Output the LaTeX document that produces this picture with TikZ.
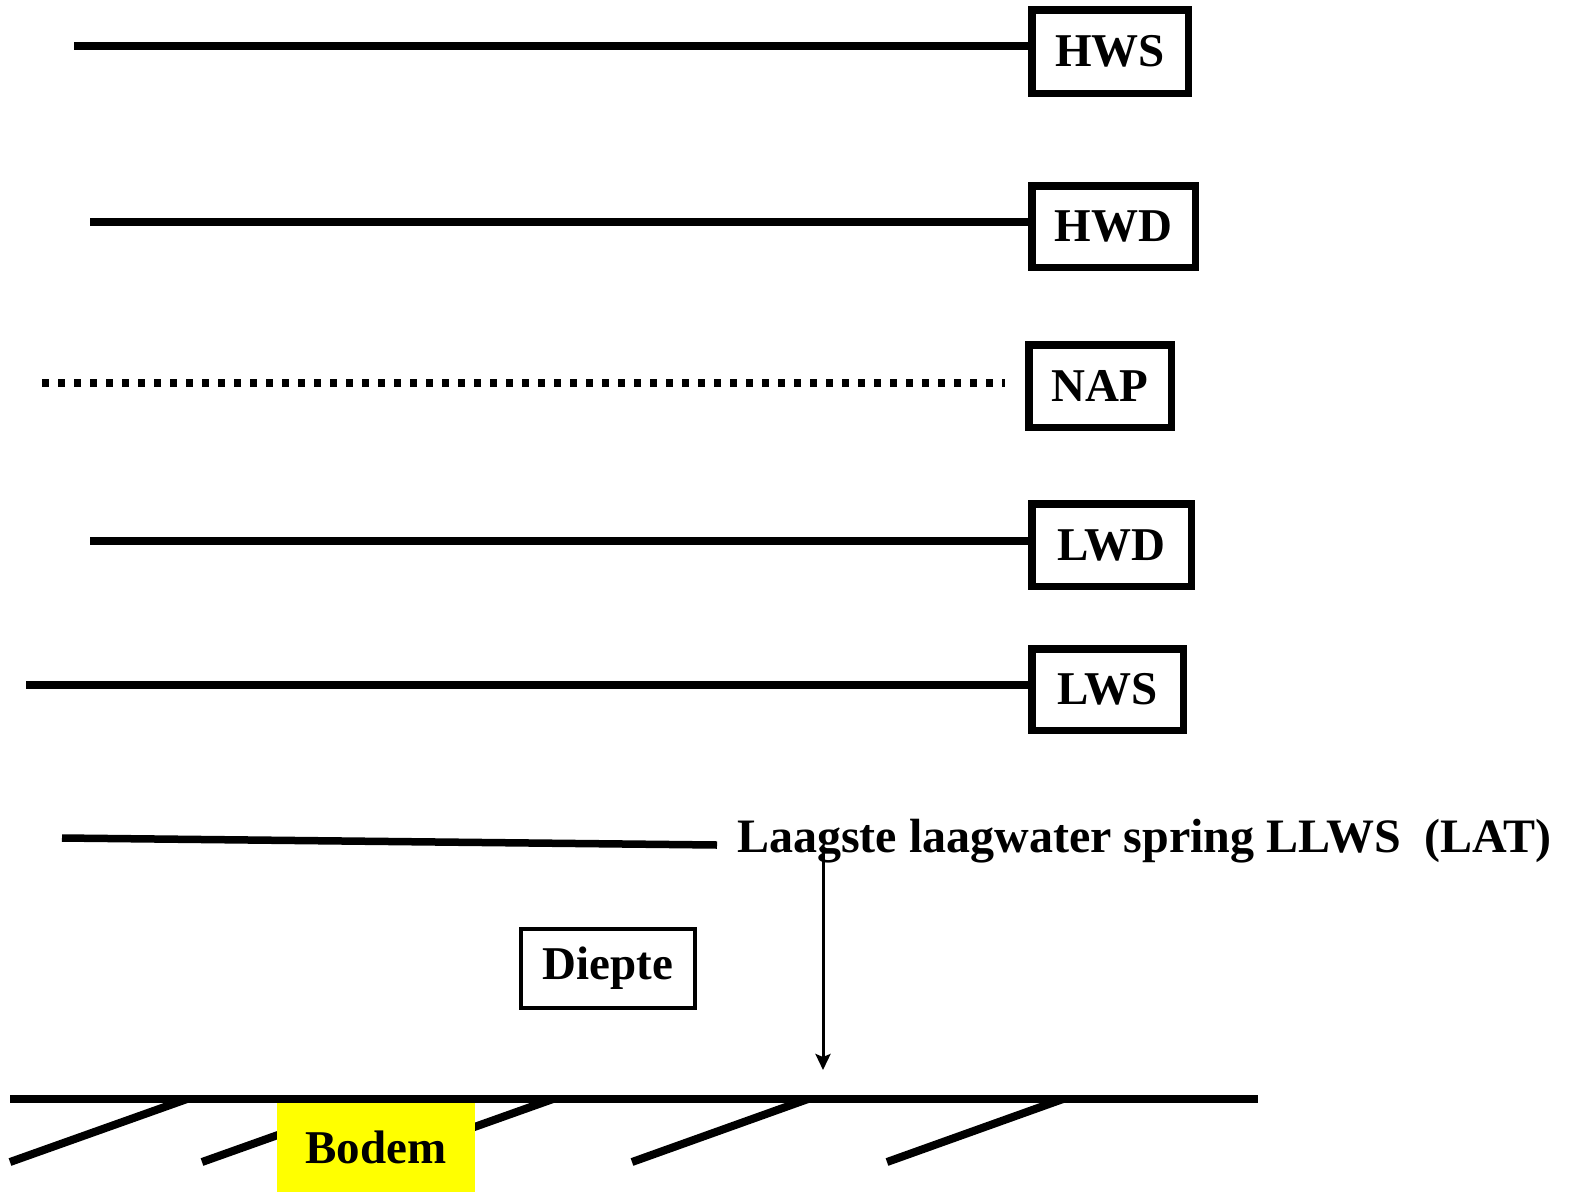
\documentclass[tikz,border=0pt]{standalone}
\usepackage{fontspec}
\setmainfont{Liberation Serif}
\usetikzlibrary{arrows.meta}
\definecolor{bodemyellow}{RGB}{255,255,0}
\begin{document}
\begin{tikzpicture}[x=1pt,y=-1pt,
  lvl/.style={line width=7.5pt},
  lvlbox/.style={draw,line width=7.5pt,inner sep=0pt,font=\fontsize{47}{56}\selectfont\bfseries},
  thinbox/.style={draw,line width=4pt,inner sep=0pt,font=\fontsize{47}{56}\selectfont\bfseries},
  ground/.style={line width=8pt},
  lbl/.style={inner sep=0pt,font=\fontsize{47}{56}\selectfont\bfseries}]
\useasboundingbox (0,0) rectangle (1573,1191);
% boxes
\node[lvlbox,minimum width=156.5pt,minimum height=83.5pt] (hws) at (1110,51.5) {HWS};
\node[lvlbox,minimum width=163.5pt,minimum height=81.5pt] (hwd) at (1113.5,226.5) {HWD};
\node[lvlbox,minimum width=142.5pt,minimum height=82.5pt] (nap) at (1100,386) {NAP};
\node[lvlbox,minimum width=159.5pt,minimum height=82.5pt] (lwd) at (1111.5,545) {LWD};
\node[lvlbox,minimum width=151.5pt,minimum height=81.5pt] (lws) at (1107.5,689.5) {LWS};
% level lines
\coordinate (hwsS) at (74,46);
\coordinate (hwdS) at (90,222);
\coordinate (napS) at (42,383);
\coordinate (napE) at (1005,383);
\coordinate (lwdS) at (90,541);
\coordinate (lwsS) at (26,685);
\draw[lvl] (hwsS) -- (hwsS -| hws.west);
\draw[lvl] (hwdS) -- (hwdS -| hwd.west);
\draw[lvl,dash pattern=on 7pt off 9pt] (napS) -- (napE);
\draw[lvl] (lwdS) -- (lwdS -| lwd.west);
\draw[lvl] (lwsS) -- (lwsS -| lws.west);
% LLWS
\coordinate (llwsS) at (62,838);
\coordinate (llwsE) at (717,845);
\draw[lvl] (llwsS) -- (llwsE);
\node[lbl,font=\fontsize{48}{56}\selectfont\bfseries,anchor=base west] (llws) at (737,852) {Laagste laagwater spring LLWS\ \ (LAT)};
% depth arrow
\coordinate (arrTop) at (823,850);
\coordinate (arrBot) at (823,1070);
\draw[line width=3pt,-{Stealth[length=16pt,width=15pt,inset=3pt]}] (arrTop) -- (arrBot);
\node[thinbox,minimum width=174pt,minimum height=79pt] (diepte) at (608,968.5) {Diepte};
% ground
\coordinate (gL) at (10,1099);
\coordinate (gR) at (1258,1099);
\coordinate (h1a) at (10,1162);  \coordinate (h1b) at (187,1099);
\coordinate (h2a) at (202,1162); \coordinate (h2b) at (379,1099);
\coordinate (h3a) at (376,1162); \coordinate (h3b) at (553,1099);
\coordinate (h4a) at (632,1162); \coordinate (h4b) at (808,1099);
\coordinate (h5a) at (887,1162); \coordinate (h5b) at (1063,1099);
\draw[ground] (h1a) -- (h1b);
\draw[ground] (h2a) -- (h2b);
\draw[ground] (h3a) -- (h3b);
\draw[ground] (h4a) -- (h4b);
\draw[ground] (h5a) -- (h5b);
\node[lbl,fill=bodemyellow,minimum width=198pt,minimum height=89pt] (bodem) at (376,1147.5) {Bodem};
\draw[ground] (gL) -- (gR);
\end{tikzpicture}
\end{document}
